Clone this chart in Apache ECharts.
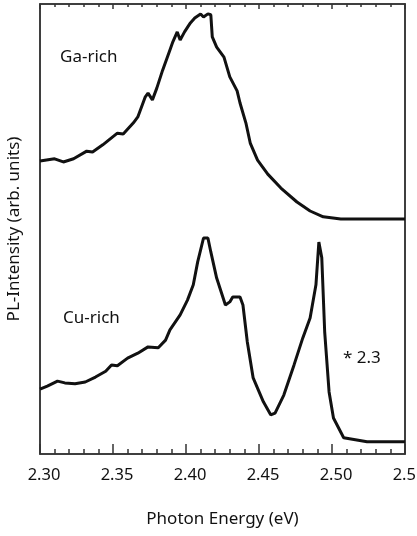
<!DOCTYPE html>
<html>
<head>
<meta charset="utf-8">
<script src="https://cdn.jsdelivr.net/npm/echarts@6/dist/echarts.min.js"></script>
<style>
  html, body { margin: 0; padding: 0; background: #fff; }
  #main { width: 417px; height: 536px; }
</style>
</head>
<body>
<div id="main"></div>
<script>
// photon energy (eV) and PL intensity (arb. units, 0-100 of the frame height)
const gaEnergy = [2.300, 2.310, 2.316, 2.323, 2.332, 2.336, 2.343, 2.353, 2.357, 2.364,
  2.367, 2.372, 2.374, 2.377, 2.380, 2.384, 2.389, 2.391, 2.394, 2.396,
  2.399, 2.403, 2.406, 2.410, 2.412, 2.415, 2.417, 2.418, 2.421, 2.426,
  2.430, 2.435, 2.437, 2.441, 2.444, 2.449, 2.456, 2.465, 2.476, 2.485,
  2.494, 2.506, 2.550];
const gaIntensity = [65.1, 65.6, 64.9, 65.6, 67.3, 67.1, 68.7, 71.3, 71.1, 73.6,
  74.9, 79.3, 80.2, 78.7, 81.3, 85.3, 89.8, 91.6, 93.8, 92.0,
  93.8, 95.8, 96.9, 97.8, 97.1, 97.8, 97.6, 92.7, 90.4, 88.2,
  83.8, 80.7, 78.0, 73.6, 69.1, 65.3, 62.2, 59.1, 56.0, 54.0,
  52.7, 52.2, 52.2];

const cuEnergy = [2.300, 2.305, 2.312, 2.317, 2.324, 2.331, 2.338, 2.345, 2.349, 2.353,
  2.360, 2.367, 2.374, 2.381, 2.386, 2.389, 2.396, 2.401, 2.405, 2.408,
  2.412, 2.415, 2.417, 2.421, 2.427, 2.430, 2.432, 2.437, 2.439, 2.442,
  2.446, 2.453, 2.458, 2.461, 2.467, 2.474, 2.480, 2.485, 2.489, 2.491,
  2.493, 2.495, 2.498, 2.501, 2.508, 2.524, 2.550];
const cuIntensity = [14.4, 15.1, 16.2, 15.8, 15.6, 16.0, 17.1, 18.4, 19.8, 19.6,
  21.3, 22.4, 23.8, 23.6, 25.3, 27.6, 30.9, 34.2, 37.6, 42.7,
  48.0, 48.0, 44.9, 39.1, 33.1, 33.8, 34.9, 34.9, 33.1, 24.9,
  16.9, 11.6, 8.7, 9.1, 13.1, 19.8, 25.8, 30.2, 37.6, 47.1,
  43.6, 27.1, 13.8, 8.0, 3.6, 2.7, 2.7];

const curveLabels = ['Ga-rich', 'Cu-rich', '* 2.3'];

const chart = echarts.init(document.getElementById('main'));
const font = 'Noto Sans';

function pairs(xs, ys) {
  return xs.map((x, i) => [x, ys[i]]);
}

chart.setOption({
  animation: false,
  backgroundColor: '#fff',
  textStyle: { fontFamily: font },
  grid: {
    left: 40, right: 12, top: 4, bottom: 82,
    outerBoundsMode: 'none',
    containLabel: false,
    show: true,
    borderColor: '#333',
    borderWidth: 1.5
  },
  xAxis: [
    {
      type: 'value',
      position: 'bottom',
      min: 2.30,
      max: 2.55,
      splitNumber: 5,
      axisLine: { show: true, onZero: false, lineStyle: { color: '#333', width: 1.5 } },
      axisTick: { show: true, inside: true, length: 10, lineStyle: { color: '#333', width: 1.5 } },
      minorTick: { show: true, splitNumber: 5, length: 5, lineStyle: { color: '#333', width: 1.5 } },
      splitLine: { show: false },
      name: 'Photon Energy (eV)',
      nameLocation: 'middle',
      nameGap: 57,
      nameTextStyle: { fontSize: 17, color: '#111', fontFamily: font },
      axisLabel: {
        margin: 13,
        fontSize: 16.5,
        color: '#111',
        fontFamily: font,
        padding: [0, 0, 0, 8],
        formatter: v => v.toFixed(2)
      }
    },
    {
      type: 'value',
      position: 'top',
      min: 2.30,
      max: 2.55,
      splitNumber: 5,
      axisLine: { show: true, onZero: false, lineStyle: { color: '#333', width: 1.5 } },
      axisTick: { show: true, inside: true, length: 5, lineStyle: { color: '#333', width: 1.5 } },
      minorTick: { show: true, splitNumber: 5, length: 3, lineStyle: { color: '#333', width: 1.5 } },
      splitLine: { show: false },
      axisLabel: { show: false }
    }
  ],
  yAxis: [
    {
      type: 'value',
      min: 0,
      max: 100,
      name: 'PL-Intensity (arb. units)',
      nameLocation: 'middle',
      nameGap: 17,
      nameTextStyle: { fontSize: 17, color: '#111', fontFamily: font },
      axisLine: { show: true, onZero: false, lineStyle: { color: '#333', width: 1.5 } },
      axisTick: { show: false },
      axisLabel: { show: false },
      splitLine: { show: false }
    },
    {
      type: 'value',
      min: 0,
      max: 100,
      axisLine: { show: true, onZero: false, lineStyle: { color: '#333', width: 1.5 } },
      axisTick: { show: false },
      axisLabel: { show: false },
      splitLine: { show: false }
    }
  ],
  series: [
    {
      name: curveLabels[0],
      type: 'line',
      xAxisIndex: 1,
      yAxisIndex: 1,
      data: pairs(gaEnergy, gaIntensity),
      showSymbol: false,
      lineStyle: { color: '#111', width: 3 }
    },
    {
      name: curveLabels[1],
      type: 'line',
      xAxisIndex: 0,
      yAxisIndex: 0,
      data: pairs(cuEnergy, cuIntensity),
      showSymbol: false,
      lineStyle: { color: '#111', width: 3 }
    }
  ],
  graphic: [
    { type: 'text', left: 60, top: 49, style: { text: curveLabels[0], fontSize: 17, fill: '#111', fontFamily: font } },
    { type: 'text', left: 63, top: 310, style: { text: curveLabels[1], fontSize: 17, fill: '#111', fontFamily: font } },
    { type: 'text', left: 343, top: 350, style: { text: curveLabels[2], fontSize: 17, fill: '#111', fontFamily: font } }
  ]
});
</script>
</body>
</html>
